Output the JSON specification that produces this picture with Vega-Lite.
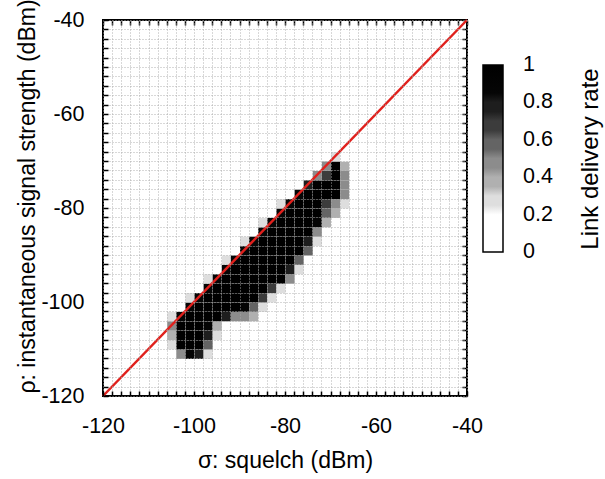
{
  "$schema": "https://vega.github.io/schema/vega-lite/v6.json",
  "width": 364,
  "height": 376,
  "autosize": {"type": "none"},
  "padding": {"left": 103, "top": 20, "right": 138, "bottom": 83},
  "config": {
    "font": "Liberation Sans",
    "view": {"stroke": "black", "strokeWidth": 2},
    "axis": {
      "domain": false,
      "tickColor": "black",
      "tickWidth": 1.5,
      "tickSize": -5,
      "labelColor": "black",
      "labelFontSize": 21.5,
      "labelOverlap": false,
      "labelFlush": false,
      "titleColor": "black",
      "titleFontSize": 23,
      "titleFontWeight": "normal",
      "gridColor": "#aaaaaa",
      "gridDash": [1, 2],
      "gridWidth": 1,
      "gridOpacity": 0.9
    }
  },
  "datasets": {
    "cells": [
      {"s": -104, "r": -112, "v": 0.45}, {"s": -102, "r": -112, "v": 0.9}, {"s": -100, "r": -112, "v": 0.75}, {"s": -98, "r": -112, "v": 0.25},
      {"s": -106, "r": -110, "v": 0.25}, {"s": -104, "r": -110, "v": 1}, {"s": -102, "r": -110, "v": 1}, {"s": -100, "r": -110, "v": 1}, {"s": -98, "r": -110, "v": 0.55},
      {"s": -106, "r": -108, "v": 0.35}, {"s": -104, "r": -108, "v": 1}, {"s": -102, "r": -108, "v": 1}, {"s": -100, "r": -108, "v": 1}, {"s": -98, "r": -108, "v": 0.75}, {"s": -96, "r": -108, "v": 0.25},
      {"s": -106, "r": -106, "v": 0.45}, {"s": -104, "r": -106, "v": 1}, {"s": -102, "r": -106, "v": 1}, {"s": -100, "r": -106, "v": 1}, {"s": -98, "r": -106, "v": 0.9}, {"s": -96, "r": -106, "v": 0.35},
      {"s": -106, "r": -104, "v": 0.25}, {"s": -104, "r": -104, "v": 0.85}, {"s": -102, "r": -104, "v": 1}, {"s": -100, "r": -104, "v": 1}, {"s": -98, "r": -104, "v": 1}, {"s": -96, "r": -104, "v": 1}, {"s": -94, "r": -104, "v": 0.75}, {"s": -92, "r": -104, "v": 0.45}, {"s": -90, "r": -104, "v": 0.45}, {"s": -88, "r": -104, "v": 0.35},
      {"s": -102, "r": -102, "v": 0.85}, {"s": -100, "r": -102, "v": 1}, {"s": -98, "r": -102, "v": 1}, {"s": -96, "r": -102, "v": 1}, {"s": -94, "r": -102, "v": 1}, {"s": -92, "r": -102, "v": 1}, {"s": -90, "r": -102, "v": 0.9}, {"s": -88, "r": -102, "v": 0.55}, {"s": -86, "r": -102, "v": 0.25},
      {"s": -102, "r": -100, "v": 0.25}, {"s": -100, "r": -100, "v": 0.85}, {"s": -98, "r": -100, "v": 1}, {"s": -96, "r": -100, "v": 1}, {"s": -94, "r": -100, "v": 1}, {"s": -92, "r": -100, "v": 1}, {"s": -90, "r": -100, "v": 1}, {"s": -88, "r": -100, "v": 1}, {"s": -86, "r": -100, "v": 0.65}, {"s": -84, "r": -100, "v": 0.25},
      {"s": -98, "r": -98, "v": 0.85}, {"s": -96, "r": -98, "v": 1}, {"s": -94, "r": -98, "v": 1}, {"s": -92, "r": -98, "v": 1}, {"s": -90, "r": -98, "v": 1}, {"s": -88, "r": -98, "v": 1}, {"s": -86, "r": -98, "v": 1}, {"s": -84, "r": -98, "v": 0.65}, {"s": -82, "r": -98, "v": 0.25},
      {"s": -98, "r": -96, "v": 0.25}, {"s": -96, "r": -96, "v": 0.85}, {"s": -94, "r": -96, "v": 1}, {"s": -92, "r": -96, "v": 1}, {"s": -90, "r": -96, "v": 1}, {"s": -88, "r": -96, "v": 1}, {"s": -86, "r": -96, "v": 1}, {"s": -84, "r": -96, "v": 1}, {"s": -82, "r": -96, "v": 1}, {"s": -80, "r": -96, "v": 0.45},
      {"s": -94, "r": -94, "v": 0.85}, {"s": -92, "r": -94, "v": 1}, {"s": -90, "r": -94, "v": 1}, {"s": -88, "r": -94, "v": 1}, {"s": -86, "r": -94, "v": 1}, {"s": -84, "r": -94, "v": 1}, {"s": -82, "r": -94, "v": 1}, {"s": -80, "r": -94, "v": 0.75}, {"s": -78, "r": -94, "v": 0.25},
      {"s": -94, "r": -92, "v": 0.25}, {"s": -92, "r": -92, "v": 0.85}, {"s": -90, "r": -92, "v": 1}, {"s": -88, "r": -92, "v": 1}, {"s": -86, "r": -92, "v": 1}, {"s": -84, "r": -92, "v": 1}, {"s": -82, "r": -92, "v": 1}, {"s": -80, "r": -92, "v": 1}, {"s": -78, "r": -92, "v": 0.55},
      {"s": -90, "r": -90, "v": 0.85}, {"s": -88, "r": -90, "v": 1}, {"s": -86, "r": -90, "v": 1}, {"s": -84, "r": -90, "v": 1}, {"s": -82, "r": -90, "v": 1}, {"s": -80, "r": -90, "v": 1}, {"s": -78, "r": -90, "v": 1}, {"s": -76, "r": -90, "v": 0.55},
      {"s": -90, "r": -88, "v": 0.25}, {"s": -88, "r": -88, "v": 0.85}, {"s": -86, "r": -88, "v": 1}, {"s": -84, "r": -88, "v": 1}, {"s": -82, "r": -88, "v": 1}, {"s": -80, "r": -88, "v": 1}, {"s": -78, "r": -88, "v": 1}, {"s": -76, "r": -88, "v": 0.75}, {"s": -74, "r": -88, "v": 0.25},
      {"s": -86, "r": -86, "v": 0.85}, {"s": -84, "r": -86, "v": 1}, {"s": -82, "r": -86, "v": 1}, {"s": -80, "r": -86, "v": 1}, {"s": -78, "r": -86, "v": 1}, {"s": -76, "r": -86, "v": 1}, {"s": -74, "r": -86, "v": 0.45},
      {"s": -86, "r": -84, "v": 0.25}, {"s": -84, "r": -84, "v": 0.85}, {"s": -82, "r": -84, "v": 1}, {"s": -80, "r": -84, "v": 1}, {"s": -78, "r": -84, "v": 1}, {"s": -76, "r": -84, "v": 1}, {"s": -74, "r": -84, "v": 0.9}, {"s": -72, "r": -84, "v": 0.35},
      {"s": -82, "r": -82, "v": 0.85}, {"s": -80, "r": -82, "v": 1}, {"s": -78, "r": -82, "v": 1}, {"s": -76, "r": -82, "v": 1}, {"s": -74, "r": -82, "v": 1}, {"s": -72, "r": -82, "v": 0.55}, {"s": -70, "r": -82, "v": 0.35},
      {"s": -82, "r": -80, "v": 0.25}, {"s": -80, "r": -80, "v": 0.85}, {"s": -78, "r": -80, "v": 1}, {"s": -76, "r": -80, "v": 1}, {"s": -74, "r": -80, "v": 1}, {"s": -72, "r": -80, "v": 0.65}, {"s": -70, "r": -80, "v": 0.45}, {"s": -68, "r": -80, "v": 0.3},
      {"s": -78, "r": -78, "v": 0.85}, {"s": -76, "r": -78, "v": 1}, {"s": -74, "r": -78, "v": 1}, {"s": -72, "r": -78, "v": 1}, {"s": -70, "r": -78, "v": 1}, {"s": -68, "r": -78, "v": 0.45},
      {"s": -76, "r": -76, "v": 0.75}, {"s": -74, "r": -76, "v": 1}, {"s": -72, "r": -76, "v": 1}, {"s": -70, "r": -76, "v": 1}, {"s": -68, "r": -76, "v": 0.45},
      {"s": -74, "r": -74, "v": 0.45}, {"s": -72, "r": -74, "v": 0.65}, {"s": -70, "r": -74, "v": 1}, {"s": -68, "r": -74, "v": 0.45},
      {"s": -72, "r": -72, "v": 0.45}, {"s": -70, "r": -72, "v": 1}, {"s": -68, "r": -72, "v": 0.35},
      {"s": -70, "r": -70, "v": 0.25}, {"s": -68, "r": -70, "v": 0.2}
    ]
  },
  "layer": [
    {
      "data": {"name": "cells"},
      "mark": {"type": "rect"},
      "encoding": {
        "x": {
          "field": "s", "type": "quantitative",
          "bin": {"binned": true, "step": 2},
          "scale": {"domain": [-120, -40], "nice": false, "zero": false},
          "title": "σ: squelch (dBm)",
          "axis": {
            "orient": "bottom",
            "values": [-120,-118,-116,-114,-112,-110,-108,-106,-104,-102,-100,-98,-96,-94,-92,-90,-88,-86,-84,-82,-80,-78,-76,-74,-72,-70,-68,-66,-64,-62,-60,-58,-56,-54,-52,-50,-48,-46,-44,-42,-40],
            "labelExpr": "datum.value % 20 === 0 ? '' + datum.value : ''",
            "labelPadding": 24,
            "grid": true,
            "titlePadding": 13,
            "encode": {"ticks": {"update": {"y2": {"signal": "datum.value % 20 === 0 ? -8 : -5"}}}}
          }
        },
        "y": {
          "field": "r", "type": "quantitative",
          "bin": {"binned": true, "step": 2},
          "scale": {"domain": [-120, -40], "nice": false, "zero": false},
          "title": "ρ: instantaneous signal strength (dBm)",
          "axis": {
            "orient": "left",
            "values": [-120,-118,-116,-114,-112,-110,-108,-106,-104,-102,-100,-98,-96,-94,-92,-90,-88,-86,-84,-82,-80,-78,-76,-74,-72,-70,-68,-66,-64,-62,-60,-58,-56,-54,-52,-50,-48,-46,-44,-42,-40],
            "labelExpr": "datum.value % 20 === 0 ? '' + datum.value : ''",
            "labelPadding": 24,
            "grid": true,
            "titlePadding": 1,
            "titleY": 176,
            "encode": {"ticks": {"update": {"x2": {"signal": "datum.value % 20 === 0 ? 8 : 5"}}}}
          }
        },
        "color": {
          "field": "v", "type": "quantitative",
          "scale": {
            "type": "linear",
            "domain": [0, 0.2, 0.2001, 0.3, 0.3001, 0.4, 0.4001, 0.5, 0.5001, 0.6, 0.6001, 0.7, 0.7001, 0.8, 0.8001, 1],
            "range": ["#ffffff", "#ffffff", "#dedede", "#dedede", "#b0b0b0", "#b0b0b0", "#8c8c8c", "#8c8c8c", "#646464", "#646464", "#3c3c3c", "#3c3c3c", "#1e1e1e", "#1e1e1e", "#080808", "#000000"]
          },
          "legend": {
            "orient": "none",
            "legendX": 380,
            "legendY": 45,
            "padding": 0,
            "direction": "vertical",
            "gradientLength": 187,
            "gradientThickness": 20,
            "gradientStrokeColor": "black",
            "gradientStrokeWidth": 1.5,
            "values": [0, 0.2, 0.4, 0.6, 0.8, 1],
            "labelExpr": "'' + datum.value",
            "labelFontSize": 21.5,
            "labelColor": "black",
            "labelOffset": 20,
            "labelOverlap": false,
            "title": "Link delivery rate",
            "titleOrient": "right",
            "titleFontSize": 24,
            "titleFontWeight": "normal",
            "titleColor": "black",
            "titleLimit": 400,
            "titlePadding": 50,
            "encode": {
              "title": {"update": {"angle": {"value": -90}}},
              "labels": {"update": {"baseline": {"value": "middle"}}}
            }
          }
        }
      }
    },
    {
      "data": {"values": [{}]},
      "mark": {"type": "rule", "color": "#e0201c", "strokeWidth": 2.5},
      "encoding": {
        "x": {
          "datum": -120, "type": "quantitative",
          "axis": {
            "orient": "top",
            "values": [-120,-118,-116,-114,-112,-110,-108,-106,-104,-102,-100,-98,-96,-94,-92,-90,-88,-86,-84,-82,-80,-78,-76,-74,-72,-70,-68,-66,-64,-62,-60,-58,-56,-54,-52,-50,-48,-46,-44,-42,-40],
            "labels": false,
            "grid": false,
            "title": null,
            "encode": {"ticks": {"update": {"y2": {"signal": "datum.value % 20 === 0 ? 8 : 5"}}}}
          }
        },
        "y": {
          "datum": -120, "type": "quantitative",
          "axis": {
            "orient": "right",
            "values": [-120,-118,-116,-114,-112,-110,-108,-106,-104,-102,-100,-98,-96,-94,-92,-90,-88,-86,-84,-82,-80,-78,-76,-74,-72,-70,-68,-66,-64,-62,-60,-58,-56,-54,-52,-50,-48,-46,-44,-42,-40],
            "labels": false,
            "grid": false,
            "title": null,
            "encode": {"ticks": {"update": {"x2": {"signal": "datum.value % 20 === 0 ? -8 : -5"}}}}
          }
        },
        "x2": {"datum": -40},
        "y2": {"datum": -40}
      }
    }
  ],
  "resolve": {"axis": {"x": "independent", "y": "independent"}}
}
